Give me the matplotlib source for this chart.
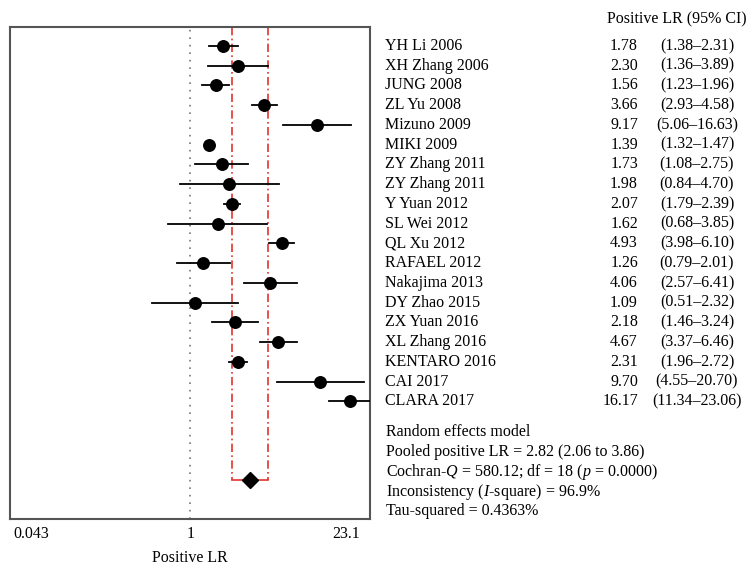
import matplotlib
matplotlib.use('Agg')
import matplotlib.pyplot as plt
import matplotlib.transforms as mtransforms

studies = ['YH Li 2006', 'XH Zhang 2006', 'JUNG 2008', 'ZL Yu 2008', 'Mizuno 2009',
           'MIKI 2009', 'ZY Zhang 2011', 'ZY Zhang 2011', 'Y Yuan 2012', 'SL Wei 2012',
           'QL Xu 2012', 'RAFAEL 2012', 'Nakajima 2013', 'DY Zhao 2015', 'ZX Yuan 2016',
           'XL Zhang 2016', 'KENTARO 2016', 'CAI 2017', 'CLARA 2017']
lr = [1.78, 2.30, 1.56, 3.66, 9.17, 1.39, 1.73, 1.98, 2.07, 1.62,
      4.93, 1.26, 4.06, 1.09, 2.18, 4.67, 2.31, 9.70, 16.17]
lo = [1.38, 1.36, 1.23, 2.93, 5.06, 1.32, 1.08, 0.84, 1.79, 0.68,
      3.98, 0.79, 2.57, 0.51, 1.46, 3.37, 1.96, 4.55, 11.34]
hi = [2.31, 3.89, 1.96, 4.58, 16.63, 1.47, 2.75, 4.70, 2.39, 3.85,
      6.10, 2.01, 6.41, 2.32, 3.24, 6.46, 2.72, 20.70, 23.06]

pooled = 2.82
pooled_lo = 2.06
pooled_hi = 3.86

xticks = [0.043, 1, 23.1]
xticklabels = ['0.043', '1', '23.1']

summary_lines = ['Random effects model',
                 'Pooled positive LR = 2.82 (2.06 to 3.86)',
                 'Cochran-$Q$ = 580.12; df = 18 ($p$ = 0.0000)',
                 'Inconsistency ($I$-square) = 96.9%',
                 'Tau-squared = 0.4363%']

plt.rcParams['font.family'] = ['Liberation Serif', 'DejaVu Serif']
plt.rcParams['mathtext.fontset'] = 'custom'
plt.rcParams['mathtext.rm'] = 'Liberation Serif'
plt.rcParams['mathtext.it'] = 'Liberation Serif:italic'

W, H = 754, 573
fig = plt.figure(figsize=(W/100.0, H/100.0), dpi=100)
ax = fig.add_axes([10.0/W, (H-519.0)/H, 360.0/W, (519.0-27.0)/H])

rows = list(range(1, len(studies)+1))
pool_row = 23

ax.set_xscale('log')
ax.set_xlim(0.043, 23.1)
ax.set_ylim(24.95, 0.04)

# null line
ax.axvline(1, color='#777777', ls=(0, (1, 3.5)), lw=1.2, zorder=1)

# pooled CI lines
red = '#e3342f'
dashdot = (0, (5, 2, 1, 2))
ax.plot([pooled_lo, pooled_lo], [0.04, pool_row], color=red, ls=dashdot, lw=1.2, zorder=2)
ax.plot([pooled_hi, pooled_hi], [0.04, pool_row], color=red, ls=dashdot, lw=1.2, zorder=2)
ax.plot([pooled_lo, pooled_hi], [pool_row, pool_row], color=red, ls='-', lw=1.2, zorder=2)

for i in range(len(studies)):
    ax.plot([lo[i], hi[i]], [rows[i], rows[i]], color='black', lw=1.3, zorder=3, clip_on=True)
ax.plot(lr, rows, 'o', color='black', ms=8.3, zorder=4)
ax.plot([pooled], [pool_row], 'D', color='black', ms=8, zorder=4)

for sp in ax.spines.values():
    sp.set_color('#555555')
    sp.set_linewidth(1.5)

ax.set_yticks([])
ax.set_xticks(xticks)
ax.set_xticklabels(xticklabels)
ax.xaxis.set_minor_locator(matplotlib.ticker.NullLocator())
ax.tick_params(axis='x', length=0, pad=5, labelsize=11.5)
labs = ax.get_xticklabels()
labs[0].set_ha('left')
labs[0].set_transform(labs[0].get_transform() + mtransforms.ScaledTranslation(3/100.0, 0, fig.dpi_scale_trans))
labs[2].set_ha('right')
labs[2].set_transform(labs[2].get_transform() + mtransforms.ScaledTranslation(-10/100.0, 0, fig.dpi_scale_trans))
ax.set_xlabel('Positive LR', fontsize=11.5, labelpad=6)

tr = mtransforms.blended_transform_factory(fig.transFigure, ax.transData)
fs = 11.5
for i in range(len(studies)):
    ax.text(385.0/W, rows[i], studies[i], transform=tr, ha='left', va='center', fontsize=fs)
    ax.text(638.0/W, rows[i], '%.2f' % lr[i], transform=tr, ha='right', va='center', fontsize=fs)
    ax.text(697.0/W, rows[i], '(%.2f\u2013%.2f)' % (lo[i], hi[i]), transform=tr, ha='center', va='center', fontsize=fs)

ax.text(607.0/W, 1 - 27.0/19.78, 'Positive LR (95% CI)', transform=tr, ha='left', va='center', fontsize=fs)

for k, line in enumerate(summary_lines):
    ax.text(386.0/W, 20.57 + k*1.0, line, transform=tr, ha='left', va='center', fontsize=fs)

plt.savefig('out.png', dpi=100)
